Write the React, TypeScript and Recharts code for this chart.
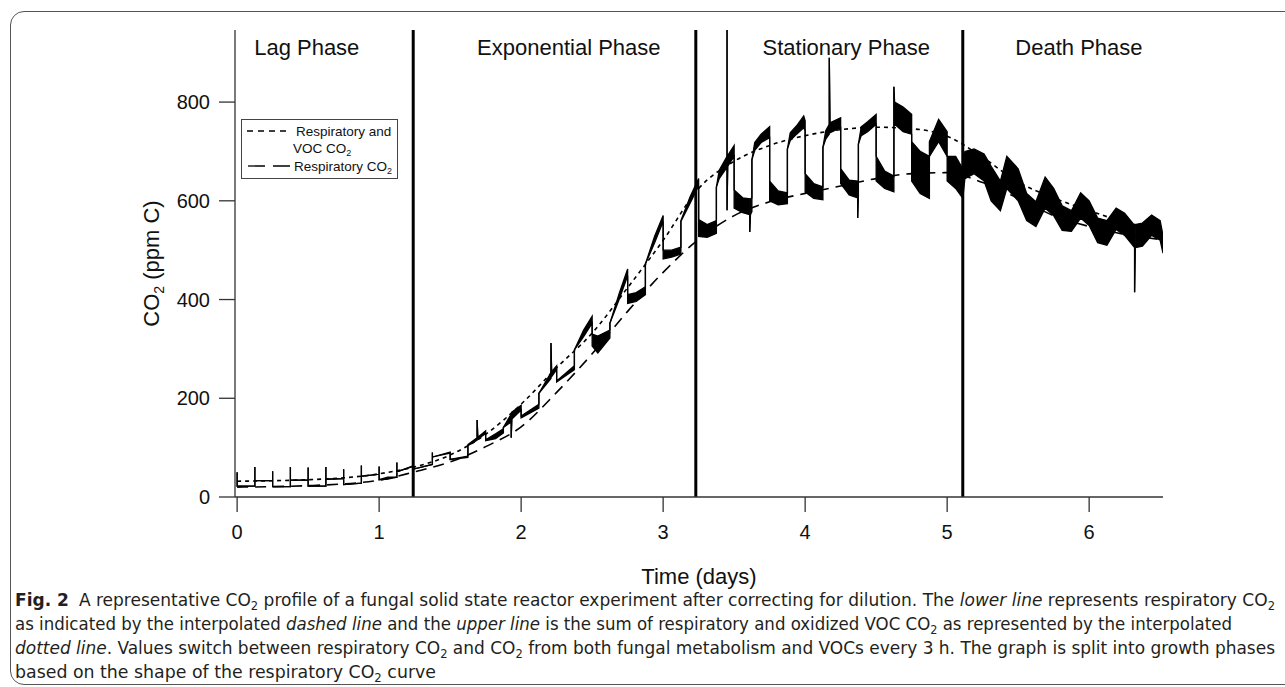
import React from 'react';
import { ComposedChart, Area, Line, XAxis, YAxis, ReferenceLine, Legend } from 'recharts';

// raw CO2 trace as [day, low, high]; low/high give the width of the noisy band
const lagTrace = [
  [0, 50, 50], [0, 22, 22], [0.125, 22, 22], [0.125, 61, 61], [0.125, 33, 33],
  [0.25, 33, 33], [0.25, 52, 52], [0.25, 21, 21], [0.375, 21, 21], [0.375, 61, 61], [0.375, 34, 34],
  [0.5, 34, 34], [0.5, 60, 60], [0.5, 22, 22], [0.625, 22, 22], [0.625, 61, 61], [0.625, 36, 36],
  [0.75, 37, 37], [0.75, 56, 56], [0.75, 25, 25], [0.875, 28, 28], [0.875, 64, 64], [0.875, 42, 42],
  [1.0, 46, 46], [1.0, 62, 62], [1.0, 35, 35], [1.06, 36, 40], [1.125, 40, 40], [1.125, 70, 70],
  [1.125, 51, 51], [1.24, 62, 63],
];

const expTrace = [
  [1.25, 57, 57], [1.375, 66, 66], [1.375, 90, 90], [1.375, 81, 81], [1.5, 89, 91], [1.5, 76, 76],
  [1.625, 80, 83], [1.625, 104, 106], [1.69, 115, 120], [1.69, 156, 156], [1.695, 118, 121], [1.75, 128, 134],
  [1.75, 114, 116], [1.82, 118, 128], [1.875, 130, 138], [1.875, 141, 141], [1.93, 152, 168], [1.93, 120, 120],
  [1.935, 158, 172], [2.0, 176, 186], [2.0, 160, 164], [2.125, 180, 188], [2.125, 210, 210], [2.21, 240, 252],
  [2.21, 312, 312], [2.215, 244, 254], [2.25, 258, 266], [2.25, 233, 235], [2.375, 258, 266], [2.375, 298, 298],
  [2.44, 325, 338], [2.5, 352, 366], [2.5, 306, 330], [2.54, 292, 326], [2.625, 322, 338], [2.625, 352, 352],
  [2.69, 400, 412], [2.75, 448, 462], [2.75, 392, 410], [2.81, 396, 414], [2.875, 410, 426], [2.875, 472, 472],
  [2.94, 515, 528], [3.0, 558, 570], [3.0, 482, 500], [3.06, 486, 500], [3.125, 492, 506], [3.125, 558, 560],
  [3.19, 595, 608], [3.25, 630, 645],
];

const statTrace = [
  [3.25, 528, 562], [3.31, 526, 552], [3.375, 534, 560], [3.375, 628, 628], [3.395, 645, 662], [3.45, 668, 690],
  [3.45, 1000, 1000], [3.45, 581, 581], [3.455, 670, 692], [3.5, 690, 712], [3.5, 585, 622], [3.56, 576, 606],
  [3.61, 572, 604], [3.61, 537, 537], [3.615, 572, 604], [3.625, 578, 606], [3.625, 683, 683], [3.645, 702, 718],
  [3.69, 718, 735], [3.75, 728, 750], [3.75, 600, 640], [3.81, 592, 620], [3.875, 594, 616], [3.875, 705, 705],
  [3.895, 722, 738], [3.94, 735, 752], [3.99, 748, 772], [4.0, 742, 762], [4.0, 618, 655], [4.06, 605, 635],
  [4.125, 602, 628], [4.125, 708, 708], [4.145, 725, 742], [4.17, 735, 755], [4.17, 890, 890], [4.175, 738, 758],
  [4.25, 748, 768], [4.25, 635, 665], [4.31, 612, 642], [4.37, 606, 640], [4.37, 565, 565], [4.375, 610, 642],
  [4.375, 715, 715], [4.395, 732, 750], [4.44, 740, 760], [4.5, 755, 775], [4.5, 640, 690], [4.56, 625, 660],
  [4.625, 618, 650], [4.625, 831, 831], [4.63, 755, 800], [4.69, 740, 790], [4.75, 735, 775], [4.75, 640, 720],
  [4.81, 615, 700], [4.875, 605, 690], [4.875, 690, 720], [4.94, 720, 765], [5.0, 690, 740], [5.0, 640, 690],
  [5.06, 625, 690], [5.11, 605, 665],
];

const deathTrace = [
  [5.125, 645, 700], [5.19, 655, 705], [5.26, 640, 695], [5.31, 600, 670], [5.375, 580, 640], [5.42, 625, 690],
  [5.5, 600, 665], [5.56, 560, 615], [5.625, 548, 598], [5.69, 585, 648], [5.75, 570, 625], [5.81, 540, 590],
  [5.875, 538, 580], [5.94, 565, 616], [6.0, 550, 600], [6.06, 515, 565], [6.125, 510, 560], [6.19, 542, 585],
  [6.25, 530, 575], [6.32, 505, 550], [6.32, 415, 415], [6.325, 505, 552], [6.375, 508, 555], [6.44, 530, 571],
  [6.5, 520, 560], [6.52, 494, 530],
];

// interpolated curves
const fitDays = [0, 0.5, 1.0, 1.25, 1.5, 1.75, 2.0, 2.25, 2.5, 2.75, 3.0, 3.25, 3.5, 3.75, 4.0, 4.25, 4.5, 4.75, 5.0, 5.25, 5.5, 5.75, 6.0, 6.25, 6.52];
const upperFit = [32, 35, 47, 61, 85, 127, 188, 262, 332, 424, 520, 625, 680, 712, 732, 744, 749, 746, 731, 688, 638, 606, 580, 557, 540];
const lowerFit = [20, 23, 34, 51, 71, 102, 142, 212, 290, 376, 455, 522, 570, 598, 615, 630, 645, 655, 657, 637, 605, 570, 548, 532, 521];

const phaseStarts = [1.24, 3.23, 5.11];
const phaseNames = ['Lag Phase', 'Exponential Phase', 'Stationary Phase', 'Death Phase'];
const phaseLabelDays = [0.12, 1.69, 3.7, 5.48];

const xTicks = [0, 1, 2, 3, 4, 5, 6];
const yTicks = [0, 200, 400, 600, 800];

const trace = [...lagTrace, ...expTrace, ...statTrace, ...deathTrace].map(([t, lo, hi]) => ({ t, band: [lo, hi] }));
const upperData = fitDays.map((t, i) => ({ t, v: upperFit[i] }));
const lowerData = fitDays.map((t, i) => ({ t, v: lowerFit[i] }));

const textColor = '#111';

const renderYLabel = (props: any) => {
  const vb = props.viewBox || { x: 145, y: 30, width: 90, height: 467 };
  const cx = vb.x + 14;
  const cy = vb.y + vb.height / 2;
  return (
    <text x={cx} y={cy} transform={`rotate(-90 ${cx} ${cy})`} textAnchor="middle" fontSize={22} fill={textColor}>
      CO<tspan dy={5} fontSize={14}>2</tspan><tspan dy={-5}>{' (ppm C)'}</tspan>
    </text>
  );
};

const renderXLabel = (props: any) => {
  const vb = props.viewBox || { x: 235, y: 497, width: 928, height: 60 };
  return (
    <text x={vb.x + vb.width / 2} y={vb.y + 87} textAnchor="middle" fontSize={22} fill={textColor}>
      Time (days)
    </text>
  );
};

const renderLegend = () => (
  <div style={{ width: 157, height: 60, boxSizing: 'border-box', border: '1px solid #444', background: '#fff', position: 'relative' }}>
    <svg width={155} height={58} style={{ position: 'absolute', left: 0, top: 0 }}>
      <line x1={5} x2={44} y1={11} y2={11} stroke="#000" strokeWidth={1.3} strokeDasharray="6 5" />
      <line x1={6} x2={48} y1={46} y2={46} stroke="#000" strokeWidth={1.3} strokeDasharray="17 8" />
      <g fontSize={13.5} fill={textColor}>
        <text x={54} y={16}>Respiratory and</text>
        <text x={51} y={33}>VOC CO<tspan dy={3} fontSize={9}>2</tspan></text>
        <text x={52} y={51}>Respiratory CO<tspan dy={3} fontSize={9}>2</tspan></text>
      </g>
    </svg>
  </div>
);

const sub = (d: number) => <tspan dy={d} fontSize={11.5}>2</tspan>;

export default function App() {
  return (
    <div style={{ position: 'absolute', left: 0, top: 0, width: 1285, height: 687, overflow: 'hidden', background: '#fff', fontFamily: "'Liberation Sans', Arial, sans-serif" }}>
      <div style={{ position: 'absolute', left: 10, top: 11, width: 1300, height: 674, boxSizing: 'border-box', border: '1.3px solid #555', borderRadius: 14 }} />
      <div style={{ position: 'absolute', left: 0, top: 0 }}>
        <ComposedChart width={1183} height={600} margin={{ top: 30, right: 20, bottom: 43, left: 145 }}>
          <XAxis
            type="number"
            dataKey="t"
            domain={[-0.015, 6.52]}
            ticks={xTicks}
            allowDataOverflow
            height={60}
            tickSize={15}
            tickMargin={13}
            stroke="#333"
            strokeWidth={1.3}
            tick={{ fill: textColor, fontSize: 20 }}
            label={renderXLabel}
          />
          <YAxis
            type="number"
            domain={[0, 946]}
            ticks={yTicks}
            allowDataOverflow
            width={90}
            tickSize={16}
            tickMargin={9}
            stroke="#333"
            strokeWidth={1.3}
            tick={{ fill: textColor, fontSize: 20 }}
            label={renderYLabel}
          />
          <Area
            data={trace}
            dataKey="band"
            type="linear"
            stroke="#000"
            strokeWidth={1.3}
            fill="#000"
            fillOpacity={1}
            dot={false}
            activeDot={false}
            isAnimationActive={false}
          />
          <Line data={upperData} dataKey="v" type="monotone" stroke="#000" strokeWidth={1.6} strokeDasharray="4 4" dot={false} activeDot={false} isAnimationActive={false} />
          <Line data={lowerData} dataKey="v" type="monotone" stroke="#000" strokeWidth={1.6} strokeDasharray="11 7" dot={false} activeDot={false} isAnimationActive={false} />
          {phaseStarts.map((d) => (
            <ReferenceLine key={`p${d}`} x={d} stroke="#000" strokeWidth={3} />
          ))}
          {phaseNames.map((name, i) => (
            <ReferenceLine
              key={name}
              x={phaseLabelDays[i]}
              stroke="none"
              label={(p: any) => (
                <text x={p.viewBox ? p.viewBox.x : 0} y={55} fontSize={22} fill={textColor}>{name}</text>
              )}
            />
          ))}
          <Legend verticalAlign="middle" content={renderLegend} wrapperStyle={{ left: 241, top: 119, width: 157, height: 60 }} />
        </ComposedChart>
      </div>
      <svg width={1285} height={687} style={{ position: 'absolute', left: 0, top: 0, pointerEvents: 'none' }}>
        <g fontSize={17} fill="#231f20" style={{ fontFamily: "'Liberation Sans Narrow', 'DejaVu Sans Condensed', sans-serif" }}>
          <text x={15} y={606} textLength={1260} lengthAdjust="spacingAndGlyphs">
            <tspan fontWeight="bold">Fig. 2</tspan>
            <tspan dx={9}>A representative CO</tspan>{sub(4)}
            <tspan dy={-4}>{' profile of a fungal solid state reactor experiment after correcting for dilution. The '}</tspan>
            <tspan fontStyle="italic">lower line</tspan>
            <tspan>{' represents respiratory CO'}</tspan>{sub(4)}
          </text>
          <text x={15} y={630} textLength={1217} lengthAdjust="spacingAndGlyphs">
            <tspan>{'as indicated by the interpolated '}</tspan>
            <tspan fontStyle="italic">dashed line</tspan>
            <tspan>{' and the '}</tspan>
            <tspan fontStyle="italic">upper line</tspan>
            <tspan>{' is the sum of respiratory and oxidized VOC CO'}</tspan>{sub(4)}
            <tspan dy={-4}>{' as represented by the interpolated'}</tspan>
          </text>
          <text x={15} y={654} textLength={1260} lengthAdjust="spacingAndGlyphs">
            <tspan fontStyle="italic">dotted line</tspan>
            <tspan>{'. Values switch between respiratory CO'}</tspan>{sub(4)}
            <tspan dy={-4}>{' and CO'}</tspan>{sub(4)}
            <tspan dy={-4}>{' from both fungal metabolism and VOCs every 3 h. The graph is split into growth phases'}</tspan>
          </text>
          <text x={15} y={678} textLength={421} lengthAdjust="spacingAndGlyphs">
            <tspan>{'based on the shape of the respiratory CO'}</tspan>{sub(4)}
            <tspan dy={-4}>{' curve'}</tspan>
          </text>
        </g>
      </svg>
    </div>
  );
}
